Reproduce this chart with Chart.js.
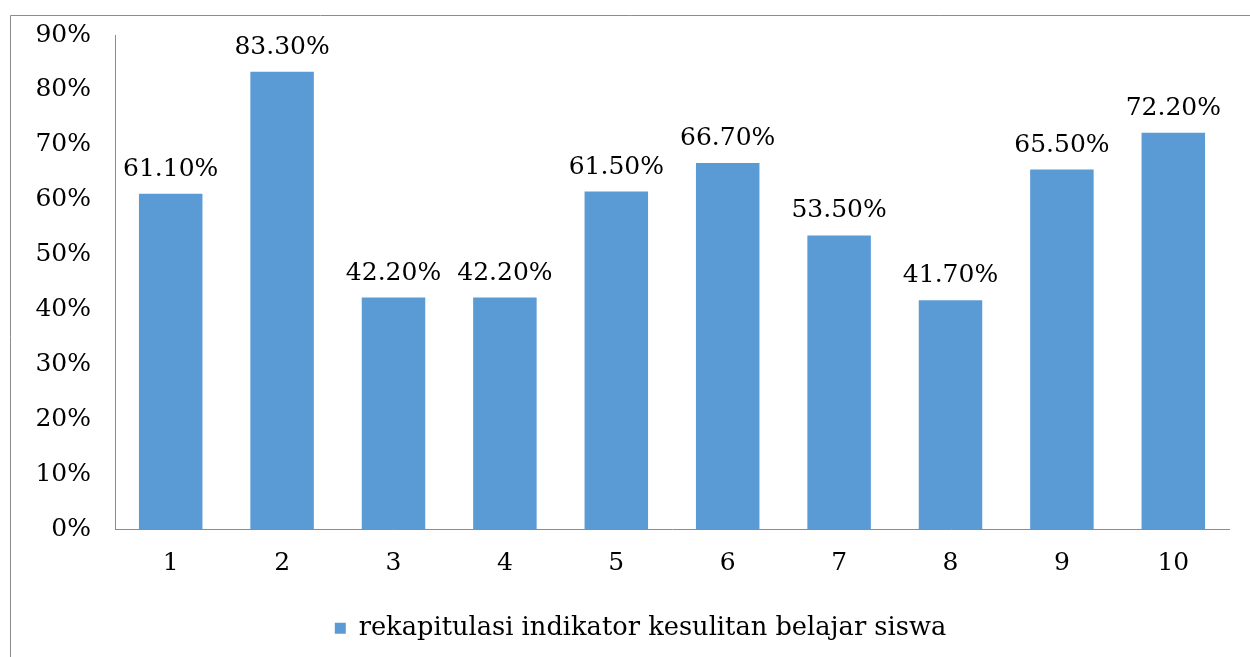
<!DOCTYPE html>
<html>
<head>
<meta charset="utf-8">
<script src="https://cdn.jsdelivr.net/npm/chart.js@4"></script>
<style>
html,body{margin:0;padding:0;background:#fff;}
#wrap{width:1250px;height:657px;position:relative;}
</style>
</head>
<body>
<div id="wrap"><canvas id="c" width="1250" height="657"></canvas></div>
<script>
const categories = ['1','2','3','4','5','6','7','8','9','10'];
const values = [61.1, 83.3, 42.2, 42.2, 61.5, 66.7, 53.5, 41.7, 65.5, 72.2];
const seriesName = 'rekapitulasi indikator kesulitan belajar siswa';

const FONT = "'DejaVu Serif', serif";

const frame = {
  id: 'frame',
  afterLayout(chart) {
    if (chart.legend) { chart.legend.left += 26; chart.legend.right += 26; }
  },
  beforeDraw(chart) {
    const ctx = chart.ctx;
    ctx.save();
    ctx.fillStyle = '#fff';
    ctx.fillRect(0, 0, chart.width, chart.height);
    ctx.strokeStyle = '#8c8c8c';
    ctx.lineWidth = 1;
    ctx.beginPath();
    ctx.moveTo(10.5, chart.height + 5);
    ctx.lineTo(10.5, 15.5);
    ctx.lineTo(chart.width + 5, 15.5);
    ctx.stroke();
    ctx.restore();
  }
};

const labels = {
  id: 'barLabels',
  afterDatasetsDraw(chart) {
    const ctx = chart.ctx;
    const meta = chart.getDatasetMeta(0);
    ctx.save();
    ctx.font = "25px " + FONT;
    ctx.fillStyle = '#000';
    ctx.textAlign = 'center';
    ctx.textBaseline = 'alphabetic';
    meta.data.forEach((bar, i) => {
      ctx.fillText(values[i].toFixed(2) + '%', bar.x, bar.y - 18);
    });
    ctx.restore();
  }
};

new Chart(document.getElementById('c'), {
  type: 'bar',
  data: {
    labels: categories,
    datasets: [{
      label: seriesName,
      data: values,
      backgroundColor: '#5B9BD5',
      borderWidth: 0,
      categoryPercentage: 1,
      barPercentage: 0.57
    }]
  },
  options: {
    responsive: false,
    animation: false,
    devicePixelRatio: 1,
    layout: { padding: { top: 35, right: 21, bottom: 6, left: 0 } },
    plugins: {
      tooltip: { enabled: false },
      legend: {
        position: 'bottom',
        labels: {
          boxWidth: 11,
          boxHeight: 11,
          padding: 17,
          color: '#000',
          font: { family: FONT, size: 25.7 }
        }
      }
    },
    scales: {
      x: {
        grid: { display: false, drawTicks: false },
        border: { display: true, color: '#8c8c8c', width: 1 },
        ticks: { color: '#000', padding: 19, font: { family: FONT, size: 25 } },
        afterFit(s) { s.height = 69; }
      },
      y: {
        min: 0,
        max: 90,
        grid: { display: false, drawTicks: false },
        border: { display: true, color: '#8c8c8c', width: 1 },
        ticks: {
          stepSize: 10,
          color: '#000',
          padding: 24,
          font: { family: FONT, size: 25, lineHeight: 0.5 },
          callback: v => v + '%'
        },
        afterFit(s) { s.width = 115; }
      }
    }
  },
  plugins: [frame, labels]
});
</script>
</body>
</html>
